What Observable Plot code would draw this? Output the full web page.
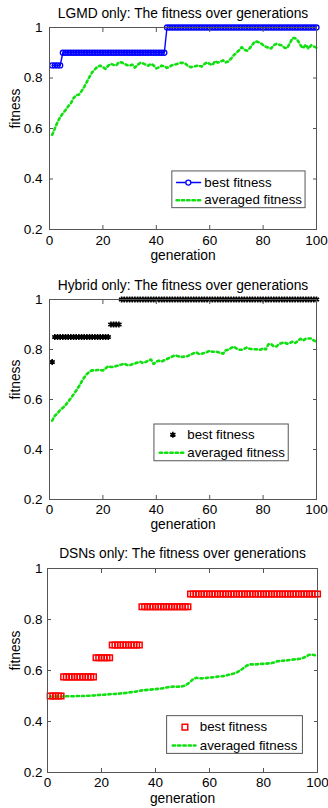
<!DOCTYPE html>
<html><head><meta charset="utf-8">
<script src="https://cdn.jsdelivr.net/npm/d3@7"></script>
<script src="https://cdn.jsdelivr.net/npm/@observablehq/plot@0.6"></script>
<style>
body{margin:0;background:#fff;width:328px;overflow:hidden;}
.panel{width:328px;display:block;}
</style></head><body>
<div id="p1" class="panel"></div><div id="p2" class="panel"></div><div id="p3" class="panel"></div>
<script>
// ---------- data ----------
const generations = d3.range(1, 101);
const titles = [
  "LGMD only: The fitness over generations",
  "Hybrid only: The fitness over generations",
  "DSNs only: The fitness over generations"
];
const xTicks = [0, 20, 40, 60, 80, 100];
const yTicks = [0.2, 0.4, 0.6, 0.8, 1];
const legendLabels = ["best fitness", "averaged fitness"];
const xLabel = "generation";
const yLabel = "fitness";

const lgmdBest = [
  0.85,0.85,0.85,0.85,0.9,0.9,0.9,0.9,0.9,0.9,
  0.9,0.9,0.9,0.9,0.9,0.9,0.9,0.9,0.9,0.9,
  0.9,0.9,0.9,0.9,0.9,0.9,0.9,0.9,0.9,0.9,
  0.9,0.9,0.9,0.9,0.9,0.9,0.9,0.9,0.9,0.9,
  0.9,0.9,0.9,1,1,1,1,1,1,1,
  1,1,1,1,1,1,1,1,1,1,
  1,1,1,1,1,1,1,1,1,1,
  1,1,1,1,1,1,1,1,1,1,
  1,1,1,1,1,1,1,1,1,1,
  1,1,1,1,1,1,1,1,1,1
];
const lgmdAvg = [
  0.575,0.600,0.625,0.645,0.660,0.673,0.688,0.700,0.720,0.732,
  0.734,0.748,0.765,0.785,0.805,0.823,0.834,0.845,0.849,0.843,
  0.836,0.849,0.856,0.852,0.850,0.862,0.862,0.856,0.851,0.849,
  0.853,0.841,0.852,0.860,0.858,0.853,0.849,0.856,0.850,0.838,
  0.842,0.849,0.846,0.840,0.845,0.851,0.853,0.856,0.860,0.860,
  0.856,0.846,0.843,0.845,0.848,0.849,0.845,0.855,0.862,0.856,
  0.851,0.867,0.861,0.865,0.870,0.862,0.866,0.877,0.890,0.900,
  0.910,0.922,0.912,0.908,0.918,0.932,0.945,0.943,0.939,0.930,
  0.924,0.920,0.917,0.930,0.935,0.932,0.929,0.920,0.918,0.937,
  0.958,0.958,0.948,0.930,0.918,0.932,0.916,0.930,0.925,0.920
];
const hybridBest = [
  0.75,0.85,0.85,0.85,0.85,0.85,0.85,0.85,0.85,0.85,
  0.85,0.85,0.85,0.85,0.85,0.85,0.85,0.85,0.85,0.85,
  0.85,0.85,0.9,0.9,0.9,0.9,1,1,1,1,
  1,1,1,1,1,1,1,1,1,1,
  1,1,1,1,1,1,1,1,1,1,
  1,1,1,1,1,1,1,1,1,1,
  1,1,1,1,1,1,1,1,1,1,
  1,1,1,1,1,1,1,1,1,1,
  1,1,1,1,1,1,1,1,1,1,
  1,1,1,1,1,1,1,1,1,1
];
const hybridAvg = [
  0.515,0.535,0.545,0.558,0.567,0.577,0.592,0.605,0.620,0.636,
  0.652,0.671,0.688,0.702,0.711,0.717,0.716,0.718,0.718,0.716,
  0.724,0.733,0.730,0.730,0.734,0.737,0.740,0.744,0.738,0.737,
  0.741,0.744,0.748,0.751,0.746,0.750,0.755,0.760,0.742,0.752,
  0.755,0.752,0.757,0.762,0.767,0.772,0.777,0.774,0.770,0.771,
  0.772,0.775,0.780,0.785,0.788,0.782,0.783,0.786,0.790,0.795,
  0.791,0.791,0.790,0.787,0.783,0.797,0.799,0.806,0.812,0.804,
  0.799,0.799,0.803,0.808,0.803,0.801,0.801,0.800,0.799,0.805,
  0.800,0.821,0.822,0.812,0.812,0.822,0.826,0.828,0.823,0.826,
  0.831,0.826,0.834,0.843,0.836,0.843,0.844,0.844,0.836,0.831
];
const dsnBest = [
  0.5,0.5,0.5,0.5,0.5,0.575,0.575,0.575,0.575,0.575,
  0.575,0.575,0.575,0.575,0.575,0.575,0.575,0.65,0.65,0.65,
  0.65,0.65,0.65,0.7,0.7,0.7,0.7,0.7,0.7,0.7,
  0.7,0.7,0.7,0.7,0.85,0.85,0.85,0.85,0.85,0.85,
  0.85,0.85,0.85,0.85,0.85,0.85,0.85,0.85,0.85,0.85,
  0.85,0.85,0.9,0.9,0.9,0.9,0.9,0.9,0.9,0.9,
  0.9,0.9,0.9,0.9,0.9,0.9,0.9,0.9,0.9,0.9,
  0.9,0.9,0.9,0.9,0.9,0.9,0.9,0.9,0.9,0.9,
  0.9,0.9,0.9,0.9,0.9,0.9,0.9,0.9,0.9,0.9,
  0.9,0.9,0.9,0.9,0.9,0.9,0.9,0.9,0.9,0.9
];
const dsnAvg = [
  0.498,0.498,0.498,0.498,0.498,0.498,0.499,0.499,0.499,0.499,
  0.500,0.500,0.500,0.500,0.501,0.501,0.502,0.503,0.504,0.505,
  0.505,0.506,0.507,0.508,0.508,0.509,0.510,0.511,0.512,0.514,
  0.515,0.516,0.518,0.520,0.522,0.523,0.524,0.525,0.526,0.527,
  0.528,0.529,0.531,0.533,0.535,0.536,0.537,0.536,0.537,0.538,
  0.541,0.548,0.557,0.567,0.571,0.570,0.569,0.570,0.571,0.572,
  0.573,0.574,0.576,0.577,0.578,0.580,0.583,0.585,0.588,0.592,
  0.598,0.605,0.613,0.620,0.624,0.624,0.624,0.625,0.626,0.626,
  0.627,0.628,0.629,0.632,0.636,0.637,0.638,0.639,0.640,0.642,
  0.643,0.644,0.645,0.647,0.651,0.656,0.662,0.662,0.660,0.659
];

// ---------- styling / layout ----------
const GREEN = "#10e010";
const FONT = "Liberation Sans, Arial, Helvetica, sans-serif";
const AXIS = "#555";
const DOTTED = {stroke: GREEN, strokeWidth: 2.6, strokeDasharray: "2.3,3"};

function bestMarks(kind, rows, sampleX, sampleX1, sampleX2, sampleY) {
  const legendPt = [{x: sampleX, y: sampleY}];
  if (kind === "circle") {
    return [
      Plot.line(rows, {x: "g", y: "best", stroke: "#0000ff", strokeWidth: 1.4}),
      Plot.dot(rows, {x: "g", y: "best", r: 2.5, stroke: "#0000ff", strokeWidth: 1.3, fill: "none"}),
      "LEGEND",
      Plot.line([{x: sampleX1, y: sampleY}, {x: sampleX2, y: sampleY}], {x: "x", y: "y", stroke: "#0000ff", strokeWidth: 1.4}),
      Plot.dot(legendPt, {x: "x", y: "y", r: 2.5, stroke: "#0000ff", strokeWidth: 1.3, fill: "white"})
    ];
  }
  if (kind === "asterisk") {
    return [
      Plot.dot(rows, {x: "g", y: "best", symbol: "asterisk", r: 2.8, stroke: "black", strokeWidth: 1.6}),
      "LEGEND",
      Plot.dot(legendPt, {x: "x", y: "y", symbol: "asterisk", r: 2.8, stroke: "black", strokeWidth: 1.6})
    ];
  }
  return [
    Plot.dot(rows, {x: "g", y: "best", symbol: "square", r: 3.2, stroke: "#ff0000", strokeWidth: 1.5, fill: "none"}),
    "LEGEND",
    Plot.dot(legendPt, {x: "x", y: "y", symbol: "square", r: 3.2, stroke: "#ff0000", strokeWidth: 1.5, fill: "none"})
  ];
}

function panel(el, cfg) {
  const rows = generations.map((g, i) => ({g, best: cfg.best[i], avg: cfg.avg[i]}));
  const L = cfg.legend;
  const bm = bestMarks(cfg.kind, rows, L.marker, L.line1, L.line2, L.row1);
  const split = bm.indexOf("LEGEND");
  const dataBest = bm.slice(0, split), legendBest = bm.slice(split + 1);
  const svg = Plot.plot({
    width: 328,
    height: cfg.height,
    marginLeft: cfg.ml, marginRight: cfg.mr, marginTop: cfg.mt, marginBottom: cfg.mb,
    style: {fontFamily: FONT, fontSize: "13.5px", background: "white", color: "black", overflow: "visible"},
    x: {domain: [0, 100], axis: null},
    y: {domain: [0.2, 1], axis: null},
    marks: [
      // data
      Plot.line(rows, {x: "g", y: "avg", ...DOTTED}),
      ...dataBest,
      // frame & ticks
      Plot.frame({stroke: AXIS, strokeWidth: 1}),
      Plot.axisX({anchor: "bottom", ticks: xTicks, tickSize: -4, stroke: AXIS, tickFormat: () => "", label: null}),
      Plot.axisX({anchor: "top", ticks: xTicks, tickSize: -4, stroke: AXIS, tickFormat: () => "", label: null}),
      Plot.axisY({anchor: "left", ticks: yTicks, tickSize: -4, stroke: AXIS, tickFormat: () => "", label: null}),
      Plot.axisY({anchor: "right", ticks: yTicks, tickSize: -4, stroke: AXIS, tickFormat: () => "", label: null}),
      // tick labels
      Plot.axisX({anchor: "bottom", ticks: xTicks, tickSize: 0, tickPadding: cfg.xpad, fill: "black", fontSize: 13.5, tickFormat: d => String(d), label: null}),
      Plot.axisY({anchor: "left", ticks: yTicks, tickSize: 0, tickPadding: cfg.ypad, fill: "black", fontSize: 13.5, tickFormat: d => String(d), label: null}),
      // texts
      Plot.text([cfg.title], {frameAnchor: "top", lineAnchor: "middle", dy: cfg.titleDy, fontSize: 13.8, fill: "black"}),
      Plot.text([xLabel], {frameAnchor: "bottom", lineAnchor: "middle", dy: cfg.xlabDy, fontSize: 13.8, fill: "black"}),
      Plot.text([yLabel], {frameAnchor: "left", lineAnchor: "middle", dx: cfg.ylabDx, rotate: -90, fontSize: 13.8, fill: "black"}),
      // legend
      Plot.rect([0], {x1: L.x1, x2: L.x2, y1: L.y1, y2: L.y2, fill: "white", stroke: AXIS, strokeWidth: 1}),
      ...legendBest,
      Plot.line([{x: L.line1, y: L.row2}, {x: L.line2, y: L.row2}], {x: "x", y: "y", ...DOTTED}),
      Plot.text([legendLabels[0]], {x: L.text, y: L.row1, textAnchor: "start", fontSize: 13.3, fill: "black"}),
      Plot.text([legendLabels[1]], {x: L.text, y: L.row2, textAnchor: "start", fontSize: 13.3, fill: "black"})
    ]
  });
  document.getElementById(el).appendChild(svg);
}

panel("p1", {
  title: titles[0], best: lgmdBest, avg: lgmdAvg, kind: "circle",
  height: 270, ml: 49, mr: 12, mt: 27, mb: 41, xpad: 6, ypad: 7,
  titleDy: -14, xlabDy: 26, ylabDx: -34,
  legend: {x1: 46, x2: 95.9, y1: 0.2845, y2: 0.43, row1: 0.386, row2: 0.316, marker: 52, line1: 47.6, line2: 56.6, text: 58}
});
panel("p2", {
  title: titles[1], best: hybridBest, avg: hybridAvg, kind: "asterisk",
  height: 270, ml: 49, mr: 12, mt: 29, mb: 41, xpad: 5, ypad: 7,
  titleDy: -14, xlabDy: 25, ylabDx: -34,
  legend: {x1: 39.3, x2: 89.6, y1: 0.353, y2: 0.5, row1: 0.459, row2: 0.387, marker: 46.2, line1: 41.3, line2: 50.6, text: 51.6}
});
panel("p3", {
  title: titles[2], best: dsnBest, avg: dsnAvg, kind: "square",
  height: 268, ml: 47, mr: 11, mt: 28, mb: 36, xpad: 5, ypad: 5,
  titleDy: -15, xlabDy: 26, ylabDx: -32,
  legend: {x1: 44.3, x2: 94.6, y1: 0.273, y2: 0.421, row1: 0.378, row2: 0.306, marker: 50.9, line1: 46.4, line2: 54.8, text: 56.4}
});
</script>
</body></html>
